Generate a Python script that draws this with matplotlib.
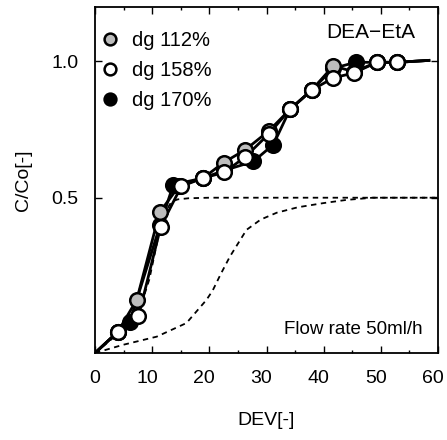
import matplotlib
matplotlib.use("Agg")
import matplotlib.pyplot as plt
from matplotlib.lines import Line2D
from matplotlib.ticker import MultipleLocator
from matplotlib.transforms import ScaledTranslation

plt.rcParams['font.family'] = ['Liberation Sans', 'DejaVu Sans']

# --- data ---
# each series: first point is the curve origin, last is the curve end (no marker)
x_112 = [0, 4.0, 7.3, 11.3, 14.7, 18.9, 22.5, 26.3, 30.4, 34.1, 37.9, 41.7, 45.3, 49.3, 52.9, 58.4]
y_112 = [-0.07, 0.008, 0.125, 0.446, 0.543, 0.572, 0.629, 0.676, 0.745, 0.824, 0.895, 0.984, 0.962, 0.997, 0.997, 1.004]

x_158 = [0, 4.0, 7.6, 11.5, 15.1, 18.9, 22.6, 26.3, 30.4, 34.1, 37.9, 41.7, 45.3, 49.3, 52.9, 58.4]
y_158 = [-0.07, 0.008, 0.064, 0.394, 0.542, 0.572, 0.593, 0.65, 0.734, 0.824, 0.895, 0.94, 0.958, 0.997, 0.997, 1.004]

x_170 = [0, 4.0, 6.1, 11.4, 13.7, 18.9, 22.6, 27.7, 31.2, 34.1, 37.9, 41.7, 45.6, 49.3, 52.9, 58.4]
y_170 = [-0.07, 0.008, 0.045, 0.40, 0.548, 0.572, 0.6, 0.633, 0.695, 0.824, 0.895, 0.975, 0.997, 0.997, 0.997, 1.004]

# simulated curves (dashed)
x_sim1 = [0, 4.0, 7.5, 9.5, 11.3, 12.5, 13.4, 14.5, 16.4, 20, 30, 40, 50, 60]
y_sim1 = [-0.07, 0.0, 0.07, 0.2, 0.38, 0.455, 0.486, 0.494, 0.498, 0.5, 0.5, 0.5, 0.5, 0.5]

x_sim2 = [0, 4.9, 10.8, 16.0, 19.5, 20.6, 22.0, 23.6, 26.5, 29.0, 31.8, 35.5, 39.9, 44.0, 48.6, 60]
y_sim2 = [-0.07, -0.04, -0.01, 0.04, 0.125, 0.16, 0.22, 0.284, 0.382, 0.42, 0.445, 0.465, 0.48, 0.492, 0.5, 0.5]

labels = ['dg 112%', 'dg 158%', 'dg 170%']
x_ticks = [0, 10, 20, 30, 40, 50, 60]
y_ticks = [0.5, 1.0]

fig = plt.figure(figsize=(4.47, 4.40), dpi=100)
ax = fig.add_axes([95/447, 1-353/440, 343/447, 346/440])

ms = 10.5
mew = 1.8
style_112 = dict(markerfacecolor='#bdbdbd', markeredgecolor='black')
style_158 = dict(markerfacecolor='white', markeredgecolor='black')
style_170 = dict(markerfacecolor='black', markeredgecolor='black')

ax.plot(x_sim1, y_sim1, color='black', lw=1.3, ls=(0, (3, 2.5)), zorder=1)
ax.plot(x_sim2, y_sim2, color='black', lw=1.3, ls=(0, (3, 2.5)), zorder=1)

series = [(x_170, y_170, style_170), (x_112, y_112, style_112), (x_158, y_158, style_158)]
for xs, ys, st in series:
    ax.plot(xs, ys, color='black', lw=2.0, zorder=2)
for xs, ys, st in series:
    ax.plot(xs[1:-1], ys[1:-1], ls='none', marker='o', ms=ms, mew=mew, zorder=3, **st)

handles = [Line2D([], [], ls='none', marker='o', ms=8.5, mew=mew, **st)
           for st in (style_112, style_158, style_170)]
ax.legend(handles, labels, loc='upper left', bbox_to_anchor=(0.02, 0.93), frameon=False,
          fontsize=14.5, handlelength=0.8, handletextpad=0.7, labelspacing=0.55, borderaxespad=0,
          borderpad=0)

ax.text(0.805, 0.925, 'DEA\u2212EtA', transform=ax.transAxes, ha='center', va='center', fontsize=15)
ax.text(0.955, 0.068, 'Flow rate 50ml/h', transform=ax.transAxes, ha='right', va='center', fontsize=13.5)

ax.set_xlim(0, 60)
ax.set_ylim(-0.07, 1.2)
ax.set_xticks(x_ticks)
ax.set_yticks(y_ticks)
ax.set_yticklabels([f'{v:.1f}' for v in y_ticks])
ax.xaxis.set_minor_locator(MultipleLocator(5))
ax.tick_params(which='both', direction='in', top=True, right=True, width=1.0, labelsize=14, pad=12)
ax.tick_params(which='major', length=5)
ax.tick_params(which='minor', length=2.5)
for s in ax.spines.values():
    s.set_linewidth(1.3)

# tick labels in the reference sit a few pixels left of their ticks
for i, lab in enumerate(ax.get_xticklabels()):
    dx = 0 if i == 0 else -5
    lab.set_transform(lab.get_transform() + ScaledTranslation(dx/100, 0, fig.dpi_scale_trans))

ax.set_xlabel('DEV[-]', fontsize=14, labelpad=18)
ax.set_ylabel('C/Co[-]', fontsize=14, labelpad=14)

fig.savefig('out.png', dpi=100)
